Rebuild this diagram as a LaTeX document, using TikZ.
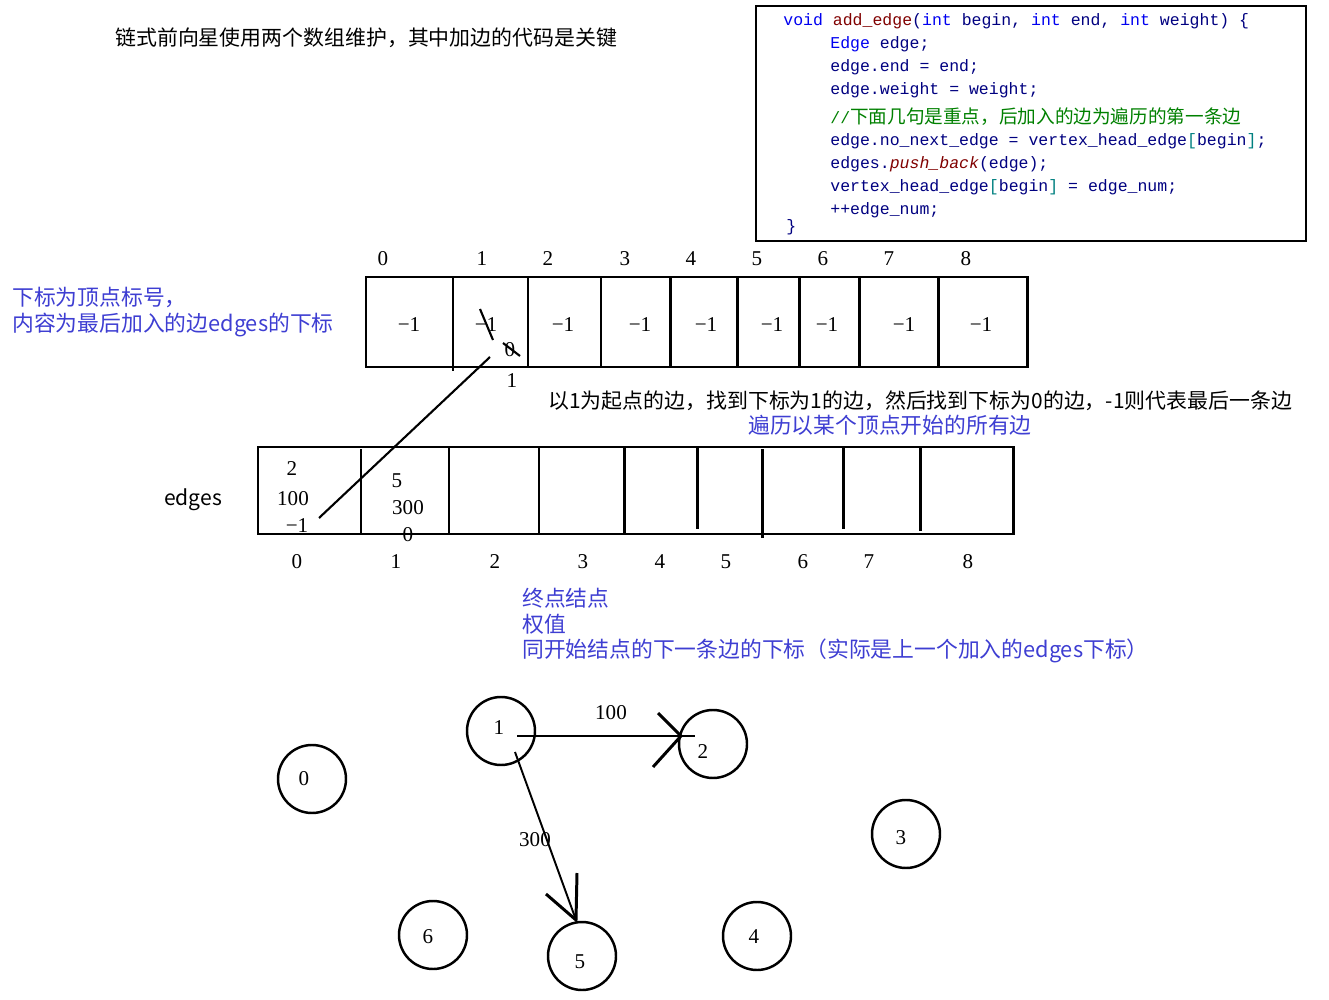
\documentclass[tikz,border=0pt]{standalone}
\usepackage{fontspec}
\setmainfont{Liberation Serif}
\setmonofont{Liberation Mono}
\newfontfamily\cjk{Noto Sans CJK SC}
\usepackage{xcolor}
\usetikzlibrary{calc}

\definecolor{noteblue}{RGB}{62,62,210}
\definecolor{kwblue}{RGB}{0,0,240}
\definecolor{idnavy}{RGB}{0,0,128}
\definecolor{fnred}{RGB}{128,0,0}
\definecolor{cmtgreen}{RGB}{0,128,0}
\definecolor{brteal}{RGB}{0,128,128}

% code colouring
\newcommand{\kw}[1]{\textcolor{kwblue}{#1}}
\newcommand{\fn}[1]{\textcolor{fnred}{#1}}
\newcommand{\br}[1]{\textcolor{brteal}{#1}}

\begin{document}
\begin{tikzpicture}[x=0.02cm, y=-0.02cm]
    %Styles
    \tikzset{
        arr/.style={line width=1.7pt},
        codeline/.style={anchor=west, inner sep=0pt, text=idnavy, font=\fontsize{9.4}{11}\selectfont\ttfamily},
        note/.style={anchor=west, inner sep=0pt, font=\fontsize{11.9}{14}\selectfont\cjk},
        bluenote/.style={note, text=noteblue, font=\fontsize{12.4}{14}\selectfont\cjk},
        num/.style={inner sep=0pt, font=\fontsize{12}{14}\selectfont},
        vertex/.style={draw, circle, line width=1.4pt, minimum size=68*0.02cm, inner sep=0pt},
        pointer/.style={line width=1.2pt},
        head/.style={line width=1.7pt}
    }
    \useasboundingbox (0,0) rectangle (1329,1000);

    %Title
    \node[note] (title) at (115,38) {链式前向星使用两个数组维护，其中加边的代码是关键};

    %Code box
    \draw[line width=0.6pt] (756,6) rectangle (1306,241);
    \node[codeline] (c1) at (783,21) {\kw{void} \fn{add\_edge}(\kw{int} begin, \kw{int} end, \kw{int} weight) \{};
    \node[codeline] (c2) at (830,44) {\kw{Edge} edge;};
    \node[codeline] (c3) at (830,67) {edge.end = end;};
    \node[codeline] (c4) at (830,90) {edge.weight = weight;};
    \node[codeline, text=cmtgreen] (c5) at (830,117) {//{\fontsize{10.6}{12}\selectfont\cjk 下面几句是重点，后加入的边为遍历的第一条边}};
    \node[codeline] (c6) at (830,141) {edge.no\_next\_edge = vertex\_head\_edge\br{[}begin\br{]};};
    \node[codeline] (c7) at (830,164) {edges.\fn{\itshape push\_back}(edge);};
    \node[codeline] (c8) at (830,187) {vertex\_head\_edge\br{[}begin\br{]} = edge\_num;};
    \node[codeline] (c9) at (830,210) {++edge\_num;};
    \node[codeline] (c10) at (786,227) {\}};

    %Head array (vertex_head_edge)
    \node[bluenote] (headnote1) at (12,298) {下标为顶点标号，};
    \node[bluenote] (headnote2) at (12,325) {内容为最后加入的边edges的下标};
    \draw[arr] (366,277) rectangle (1027,367);
    \draw[arr] (453,277) -- (453,371);
    \foreach \x in {528,601,670,737,799,859,938}
        \draw[arr] (\x,277) -- (\x,367);
    \foreach \x/\i in {383/0,482/1,548/2,625/3,691/4,757/5,823/6,889/7,966/8}
        \node[num] (hi\i) at (\x,259) {\i};
    \foreach \x/\i in {409/0,486/1,563/2,640/3,706/4,772/5,827/6,904/7,981/8}
        \node[num] (hv\i) at (\x,325) {−1};
    \draw[line width=1.2pt] (480,309) -- (493,340);
    \node[num] (hv1b) at (510,350) {0};
    \draw[line width=1.2pt] (503,343) -- (520,356);
    \node[num] (hv1c) at (512,381) {1};

    %Traversal notes
    \node[note] (walk) at (548,401) {以1为起点的边，找到下标为1的边，然后找到下标为0的边，-1则代表最后一条边};
    \node[bluenote] (walk2) at (748,425) {遍历以某个顶点开始的所有边};

    %Edges array
    \node[inner sep=0pt, font=\fontsize{12}{14}\selectfont\cjk] (edgesname) at (193,500) {edges};
    \draw[arr] (258,447) rectangle (1013,534);
    \draw[arr] (361,449) -- (361,533);
    \draw[arr] (449,447) -- (449,534);
    \draw[arr] (539,447) -- (539,534);
    \draw[arr] (624,447) -- (624,534);
    \draw[arr] (697,448) -- (697,529);
    \draw[arr] (762,449) -- (762,538);
    \draw[arr] (843,448) -- (843,529);
    \draw[arr] (920,448) -- (920,531);
    \foreach \x/\i in {297/0,396/1,495/2,583/3,660/4,726/5,803/6,869/7,968/8}
        \node[num] (ei\i) at (\x,562) {\i};
    \node[num] (e0end) at (292,469) {2};
    \node[num] (e0w) at (293,499) {100};
    \node[num] (e0nx) at (297,526) {−1};
    \node[num] (e1end) at (397,481) {5};
    \node[num] (e1w) at (408,508) {300};
    \node[num] (e1nx) at (408,535) {0};

    %Pointer from head[1] to edges[0]
    \coordinate (ptrA) at (490,357);
    \coordinate (ptrB) at (319,518);
    \draw[pointer] (ptrA) -- (ptrB);

    %Field notes
    \node[bluenote] (f1) at (522,598) {终点结点};
    \node[bluenote] (f2) at (522,624) {权值};
    \node[bluenote] (f3) at (522,651) {同开始结点的下一条边的下标（实际是上一个加入的edges下标）};

    %Graph
    \foreach \n/\cx/\cy/\lx/\ly in {0/312/779/304/779, 1/501/731/499/728, 2/713/744/703/752,
        3/906/834/901/838, 4/757/936/754/937, 5/582/956/580/962, 6/433/935/428/937} {
        \node[vertex] (v\n) at (\cx,\cy) {};
        \node[num] (l\n) at (\lx,\ly) {\n};
    }
    % 1 -> 2
    \coordinate (s12) at ($(v1)+(16,5)$);
    \coordinate (e12) at ($(v2)+(-18,-8)$);
    \coordinate (t12) at ($(v2)+(-32,-8)$);
    \draw[line width=1.7pt] (s12) -- (e12);
    \draw[head] ($(t12)+(-23,-23)$) -- (t12) -- ($(t12)+(-28,31)$);
    \node[num] (w12) at (611,713) {100};
    % 1 -> 5
    \coordinate (s15) at ($(v1)+(14,21)$);
    \coordinate (t15) at ($(v5)+(-6,-36)$);
    \draw[line width=1.1pt] (s15) -- (t15);
    \draw[head] ($(t15)+(1,-47)$) -- (t15) -- ($(t15)+(-30,-26)$);
    \node[num] (w15) at (535,840) {300};
\end{tikzpicture}
\end{document}
